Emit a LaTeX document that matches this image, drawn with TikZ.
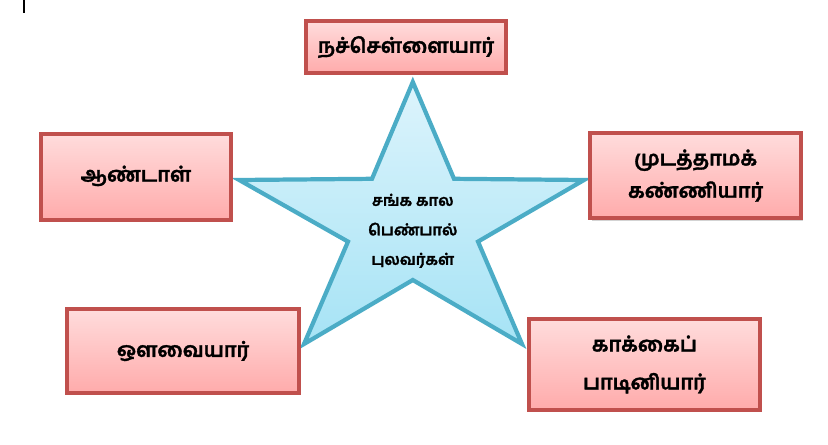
\documentclass[tikz,border=0pt]{standalone}
\usepackage{fontspec}
\newfontfamily\tamil[Script=Tamil,BoldFeatures={FakeBold=1.6}]{Hind Madurai}
\usetikzlibrary{shadows}
\definecolor{boxline}{HTML}{C0504D}
\definecolor{boxtop}{HTML}{FFDCDC}
\definecolor{boxbottom}{HTML}{FFABAB}
\definecolor{starline}{HTML}{4BACC6}
\definecolor{startop}{HTML}{DDF4FC}
\definecolor{starbottom}{HTML}{A6E3F5}

\begin{document}
\begin{tikzpicture}[
  poetbox/.style={draw=boxline,line width=3pt,top color=boxtop,bottom color=boxbottom,
    drop shadow={shadow xshift=0.04cm,shadow yshift=-0.06cm,opacity=0.35},
    align=center,inner sep=0pt,font=\tamil\bfseries\fontsize{14.5}{23}\selectfont},
]
  \useasboundingbox (0,0) rectangle (20.7,11.1);
  % cursor mark
  \draw[line width=0.8pt] (0.6,11.1) -- (0.6,10.78);

  % Star in the middle
  \draw[draw=starline,line width=3pt,top color=startop,bottom color=starbottom]
    (10.32,9.05) -- (11.35,6.63) -- (14.6,6.6) -- (11.95,5.06) -- (13.05,2.5)
    -- (10.32,4.1) -- (7.6,2.5) -- (8.7,5.06) -- (5.98,6.6) -- (9.3,6.63) -- cycle;
  \node[align=center,font=\tamil\bfseries\fontsize{11}{21}\selectfont] (theme) at (10.32,5.33)
    {சங்க கால\\பெண்பால்\\புலவர்கள்};

  % Poets round the star
  \node[poetbox,minimum width=5.0cm,minimum height=1.3cm] (nacc) at (10.15,9.925) {நச்செள்ளையார்};
  \node[poetbox,minimum width=4.75cm,minimum height=2.15cm] (andal) at (3.4,6.675) {\raisebox{0.17cm}{ஆண்டாள்}};
  \node[poetbox,minimum width=5.275cm,minimum height=2.125cm] (mudat) at (17.39,6.71) {முடத்தாமக்\\கண்ணியார்};
  \node[poetbox,minimum width=5.8cm,minimum height=2.1cm] (avvai) at (4.575,2.325) {ஒளவையார்};
  \node[poetbox,minimum width=5.775cm,minimum height=2.275cm,font=\tamil\bfseries\fontsize{14.5}{27}\selectfont] (kakkai) at (16.11,1.99) {காக்கைப்\\பாடினியார்};
\end{tikzpicture}
\end{document}
